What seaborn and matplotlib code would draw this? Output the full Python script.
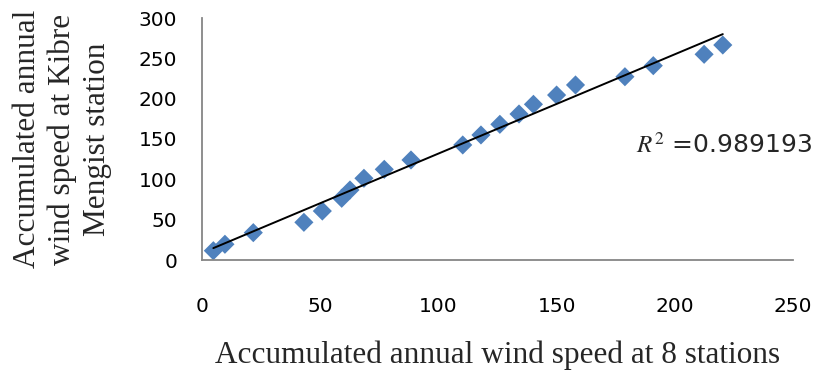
import numpy as np
import pandas as pd
import matplotlib
matplotlib.use("Agg")
import matplotlib.pyplot as plt
import seaborn as sns

# Accumulated annual wind speed: 8-station total vs. Kibre Mengist station
stations_total = [4.8, 9.7, 21.7, 43.1, 50.9, 59.1, 62.6, 68.5, 77.1, 88.4,
                  110.3, 118.0, 126.0, 134.1, 140.2, 150.0, 158.0, 178.9,
                  190.9, 212.4, 220.3]
kibre_mengist = [11.5, 19.5, 33.9, 46.7, 60.7, 76.5, 86.8, 101.3, 112.4, 124.0,
                 142.6, 155.0, 168.2, 181.0, 193.0, 204.5, 217.0, 227.2,
                 240.9, 255.0, 266.5]
x_ticks = [0, 50, 100, 150, 200, 250]
y_ticks = [0, 50, 100, 150, 200, 250, 300]
r_squared = 0.989193

df = pd.DataFrame({"total": stations_total, "kibre": kibre_mengist})

sns.set_style("white")
plt.rcParams["font.family"] = ["DejaVu Sans"]
plt.rcParams["mathtext.fontset"] = "stix"

fig = plt.figure(figsize=(8.17, 3.79), dpi=100)
ax = fig.add_axes([202 / 817, 1 - 260 / 379, 591 / 817, 242 / 379])

sns.scatterplot(data=df, x="total", y="kibre", marker="D", s=95,
                color="#4F81BD", edgecolor="none", ax=ax, zorder=2)
sns.regplot(data=df, x="total", y="kibre", scatter=False, ci=None,
            truncate=True, color="black", line_kws={"lw": 1.4, "zorder": 3},
            ax=ax)

ax.set_xlim(0, 250)
ax.set_ylim(0, 300)
ax.set_xticks(x_ticks)
ax.set_yticks(y_ticks)

grey = "#868686"
for side in ("top", "right"):
    ax.spines[side].set_visible(False)
for side in ("left", "bottom"):
    ax.spines[side].set_color(grey)
    ax.spines[side].set_linewidth(1.3)
ax.tick_params(axis="both", direction="out", length=5, width=1.3, color=grey,
               labelsize=14.5, labelcolor="black")
ax.tick_params(axis="x", pad=22)
ax.tick_params(axis="y", pad=13)

serif = ["Liberation Serif", "DejaVu Serif"]
ax.set_xlabel("Accumulated annual wind speed at 8 stations",
              fontsize=22.5, family=serif, labelpad=17)
ax.set_ylabel("Accumulated annual\nwind speed at Kibre\nMengist station",
              fontsize=22.5, family=serif, labelpad=19, linespacing=1.25)

ax.text(0.735, 0.475, r"$R^2$ =" + f"{r_squared:.6f}",
        transform=ax.transAxes, fontsize=18, ha="left", va="center")

fig.savefig("out.png", dpi=100)
